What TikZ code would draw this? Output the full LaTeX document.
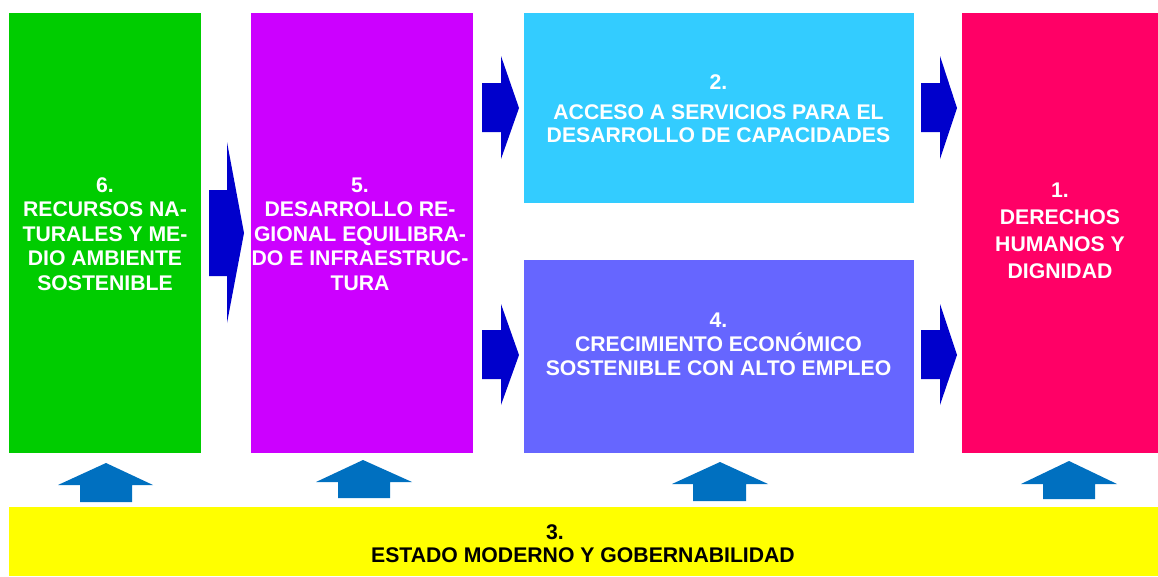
\documentclass[tikz,border=0pt]{standalone}
\usepackage{fontspec}
\setmainfont{Liberation Sans}
\definecolor{cgreen}{HTML}{00CC00}
\definecolor{cmag}{HTML}{CC00FF}
\definecolor{ccyan}{HTML}{33CCFF}
\definecolor{cviolet}{HTML}{6666FF}
\definecolor{cred}{HTML}{FF0066}
\definecolor{cyel}{HTML}{FFFF00}
\definecolor{darrow}{HTML}{0000CC}
\definecolor{uarrow}{HTML}{0070C0}
\begin{document}
\begin{tikzpicture}[x=0.75pt,y=-0.75pt,
  box/.style={draw=none,inner sep=0pt,outer sep=0pt},
  txt/.style={text=white,align=center,inner sep=0pt,font=\bfseries\fontsize{15.9pt}{18.4pt}\selectfont},
  rarrow/.style={fill=darrow,draw=none},
  uparrow/.style={fill=uarrow,draw=none}]
\useasboundingbox[fill=white] (0,0) rectangle (1158,576);
% boxes
\node[box,fill=cgreen,minimum width=192*0.75pt,minimum height=440*0.75pt] (b6) at (105,233) {};
\node[box,fill=cmag,minimum width=222*0.75pt,minimum height=440*0.75pt] (b5) at (362,233) {};
\node[box,fill=ccyan,minimum width=390*0.75pt,minimum height=190*0.75pt] (b2) at (719,108) {};
\node[box,fill=cviolet,minimum width=390*0.75pt,minimum height=193*0.75pt] (b4) at (719,356.5) {};
\node[box,fill=cred,minimum width=196*0.75pt,minimum height=440*0.75pt] (b1) at (1060,233) {};
\node[box,fill=cyel,minimum width=1149*0.75pt,minimum height=69*0.75pt] (b3) at (583.5,541.5) {};
% texts
\node[txt] (t6) at (105,234) {6.\\RECURSOS NA-\\TURALES Y ME-\\DIO AMBIENTE\\SOSTENIBLE};
\node[txt] (t5) at (360,234) {5.\\DESARROLLO RE-\\GIONAL EQUILIBRA-\\DO E INFRAESTRUC-\\TURA};
\node[txt,font=\bfseries\fontsize{15.9pt}{17.25pt}\selectfont] (t2) at (718.5,108.5) {2.\\[5.25pt]ACCESO A SERVICIOS PARA EL\\DESARROLLO DE CAPACIDADES};
\node[txt,font=\bfseries\fontsize{15.9pt}{18pt}\selectfont] (t4) at (718.5,344) {4.\\CRECIMIENTO ECONÓMICO\\SOSTENIBLE CON ALTO EMPLEO};
\node[txt,font=\bfseries\fontsize{15.9pt}{20.25pt}\selectfont] (t1) at (1060,231) {1.\\DERECHOS\\HUMANOS Y\\DIGNIDAD};
\node[txt,text=black] (t3n) at (555,532) {3.};
\node[txt,text=black] (t3) at (583,555) {ESTADO MODERNO Y GOBERNABILIDAD};
% right arrows
\fill[rarrow] (209,190) -- (227,190) -- (227,142) -- (244,233) -- (227,323) -- (227,276) -- (209,276) -- cycle;
\fill[rarrow] (482,83) -- (501,83) -- (501,56) -- (519,108) -- (501,159) -- (501,132) -- (482,132) -- cycle;
\fill[rarrow] (482,330) -- (501,330) -- (501,304) -- (519,355) -- (501,405) -- (501,379) -- (482,379) -- cycle;
\fill[rarrow] (921,83) -- (940,83) -- (940,56) -- (957,108) -- (940,159) -- (940,132) -- (921,132) -- cycle;
\fill[rarrow] (921,330) -- (940,330) -- (940,304) -- (957,355) -- (940,405) -- (940,379) -- (921,379) -- cycle;
% up arrows
\fill[uparrow] (80,502) -- (80,485) -- (58,485) -- (106,463) -- (153,485) -- (132,485) -- (132,502) -- cycle;
\fill[uparrow] (338,498) -- (338,482) -- (316,482) -- (363,460) -- (412,482) -- (390,482) -- (390,498) -- cycle;
\fill[uparrow] (693,501) -- (693,484) -- (672,484) -- (720,462) -- (768,484) -- (746,484) -- (746,501) -- cycle;
\fill[uparrow] (1043,499) -- (1043,484) -- (1021,484) -- (1069,461) -- (1117,484) -- (1095,484) -- (1095,499) -- cycle;
\end{tikzpicture}
\end{document}
